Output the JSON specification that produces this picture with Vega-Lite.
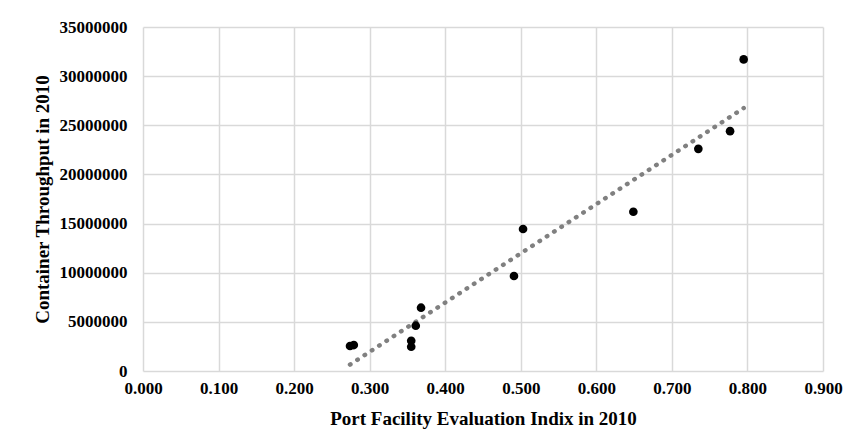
{
  "$schema": "https://vega.github.io/schema/vega-lite/v6.json",
  "width": 680,
  "height": 344,
  "autosize": {"type": "none"},
  "padding": {"left": 143, "top": 27, "right": 33, "bottom": 74},
  "background": "white",
  "data": {
    "values": [
      {"index": 0.274, "throughput": 2540000},
      {"index": 0.279, "throughput": 2640000},
      {"index": 0.355, "throughput": 3080000},
      {"index": 0.355, "throughput": 2470000},
      {"index": 0.361, "throughput": 4610000},
      {"index": 0.368, "throughput": 6440000},
      {"index": 0.491, "throughput": 9670000},
      {"index": 0.503, "throughput": 14450000},
      {"index": 0.649, "throughput": 16200000},
      {"index": 0.735, "throughput": 22600000},
      {"index": 0.777, "throughput": 24400000},
      {"index": 0.795, "throughput": 31700000}
    ]
  },
  "config": {
    "view": {"stroke": null},
    "axis": {
      "labelFont": "Liberation Serif",
      "titleFont": "Liberation Serif",
      "labelFontWeight": "bold",
      "titleFontWeight": "bold",
      "labelFontSize": 17,
      "titleFontSize": 19,
      "labelColor": "#000000",
      "titleColor": "#000000",
      "gridColor": "#d9d9d9",
      "gridWidth": 1.5,
      "domain": false,
      "ticks": false
    }
  },
  "layer": [
    {
      "transform": [{"regression": "throughput", "on": "index"}],
      "mark": {"type": "line", "color": "#808080", "strokeWidth": 4.5, "strokeDash": [0.5, 8.2], "strokeCap": "round"},
      "encoding": {
        "x": {"field": "index", "type": "quantitative"},
        "y": {"field": "throughput", "type": "quantitative"}
      }
    },
    {
      "mark": {"type": "point", "filled": true, "color": "#000000", "opacity": 1, "size": 75},
      "encoding": {
        "x": {
          "field": "index", "type": "quantitative",
          "scale": {"domain": [0, 0.9], "nice": false, "zero": true},
          "axis": {"values": [0, 0.1, 0.2, 0.3, 0.4, 0.5, 0.6, 0.7, 0.8, 0.9], "format": ".3f", "labelPadding": 9, "titlePadding": 13, "labelFlush": false, "labelOverlap": false},
          "title": "Port Facility Evaluation Indix in 2010"
        },
        "y": {
          "field": "throughput", "type": "quantitative",
          "scale": {"domain": [0, 35000000], "nice": false},
          "axis": {"values": [0, 5000000, 10000000, 15000000, 20000000, 25000000, 30000000, 35000000], "format": "d", "labelPadding": 16, "titlePadding": 7, "labelFlush": false, "labelOverlap": false},
          "title": "Container Throughput in 2010"
        }
      }
    }
  ]
}
